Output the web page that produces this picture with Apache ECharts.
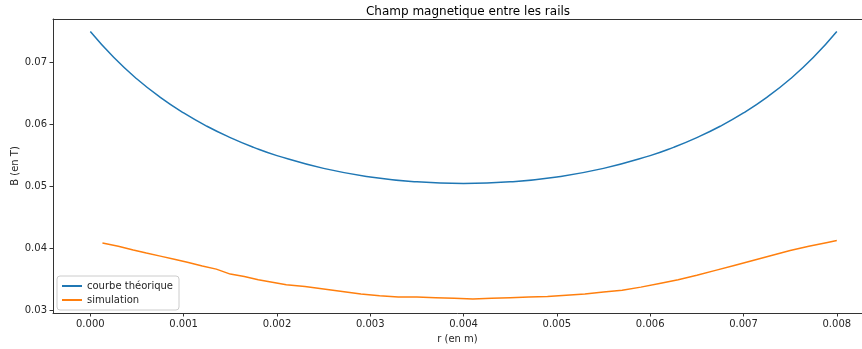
<!DOCTYPE html>
<html>
<head>
<meta charset="utf-8">
<script src="https://cdn.jsdelivr.net/npm/echarts@6/dist/echarts.min.js"></script>
<style>
  html, body { margin: 0; padding: 0; background: #fff; }
  #chart { width: 862px; height: 349px; }
</style>
</head>
<body>
<div id="chart"></div>
<script>
// courbe théorique (r en m, B en T)
const theoR = [0, 0.00025, 0.0005, 0.00075, 0.001, 0.00125, 0.0015, 0.00175, 0.002, 0.0025, 0.003, 0.0035, 0.004,
  0.0045, 0.005, 0.0055, 0.006, 0.00625, 0.0065, 0.00675, 0.007, 0.00725, 0.0075, 0.00775, 0.008]
const theoB = [0.0750, 0.07084, 0.06735, 0.06439, 0.06188, 0.05973, 0.05790, 0.05633, 0.05500, 0.05294, 0.05156, 0.05077, 0.05051,
  0.05077, 0.05156, 0.05294, 0.05500, 0.05633, 0.05790, 0.05973, 0.06188, 0.06439, 0.06735, 0.07084, 0.0750]

// simulation
const simR = [0.00013, 0.0003, 0.00046, 0.0006, 0.00075, 0.0009, 0.00104, 0.0012, 0.00135, 0.0015, 0.00165, 0.0018,
  0.00195, 0.0021, 0.0023, 0.0025, 0.0027, 0.0029, 0.0031, 0.0033, 0.0035, 0.0037, 0.0039, 0.0041, 0.0043, 0.0045,
  0.0047, 0.0049, 0.0051, 0.0053, 0.0055, 0.0057, 0.0059, 0.0061, 0.0063, 0.0065, 0.0067, 0.0069, 0.0071, 0.0073,
  0.0075, 0.0077, 0.0079, 0.0080]
const simB = [0.0409, 0.0404, 0.0398, 0.0393, 0.0388, 0.0383, 0.0378, 0.0372, 0.0367, 0.0359, 0.0355, 0.0350,
  0.0346, 0.0342, 0.0339, 0.0335, 0.0331, 0.0327, 0.0324, 0.0322, 0.0322, 0.0321, 0.0320, 0.0319, 0.0320, 0.0321,
  0.0322, 0.0323, 0.0325, 0.0327, 0.0330, 0.0333, 0.0338, 0.0344, 0.0350, 0.0357, 0.0365, 0.0373, 0.0381, 0.0389,
  0.0397, 0.0404, 0.0410, 0.0413]

const xTicks = [0, 0.001, 0.002, 0.003, 0.004, 0.005, 0.006, 0.007, 0.008]
const yTicks = [0.03, 0.04, 0.05, 0.06, 0.07]

const font = 'DejaVu Sans'
const textColor = '#262626'
const spine = '#333'

const chart = echarts.init(document.getElementById('chart'), null, { renderer: 'canvas' })

const option = {
  animation: false,
  title: {
    text: 'Champ magnetique entre les rails',
    left: 463,
    textAlign: 'center',
    top: 1,
    textStyle: { fontFamily: font, fontSize: 12, fontWeight: 'normal', color: '#000' },
  },
  grid: {
    left: 53,
    right: 0,
    top: 19,
    bottom: 36,
    show: false,
    outerBoundsMode: 'none',
  },
  legend: {
    orient: 'vertical',
    left: 57,
    top: 276,
    padding: [5, 6, 5, 5],
    itemGap: 4,
    itemWidth: 20,
    itemHeight: 2,
    icon: 'rect',
    backgroundColor: '#fff',
    borderColor: '#ccc',
    borderWidth: 1,
    borderRadius: 3,
    textStyle: { fontFamily: font, fontSize: 10, color: textColor },
    data: ['courbe théorique', 'simulation'],
  },
  xAxis: [
    {
      type: 'value',
      min: -0.0004,
      max: 0.00827,
      name: 'r (en m)',
      nameLocation: 'middle',
      nameGap: 21,
      nameMoveOverlap: false,
      nameTextStyle: { fontFamily: font, fontSize: 10, color: textColor },
      axisLine: { onZero: false, lineStyle: { color: spine, width: 1 } },
      axisTick: { show: true, length: 3.5, customValues: xTicks, lineStyle: { color: spine } },
      axisLabel: {
        customValues: xTicks,
        fontFamily: font, fontSize: 10, color: textColor, margin: 6,
        formatter: (v) => v.toFixed(3),
      },
      splitLine: { show: false },
    },
    {
      // top spine
      type: 'value',
      position: 'top',
      min: -0.0004,
      max: 0.00827,
      axisLine: { show: true, onZero: false, lineStyle: { color: spine, width: 1 } },
      axisTick: { show: false },
      axisLabel: { show: false },
      splitLine: { show: false },
    },
  ],
  yAxis: {
    type: 'value',
    min: 0.02963,
    max: 0.07702,
    name: 'B (en T)',
    nameLocation: 'middle',
    nameGap: 33,
    nameMoveOverlap: false,
    nameTextStyle: { fontFamily: font, fontSize: 10, color: textColor },
    axisLine: { show: true, onZero: false, lineStyle: { color: spine, width: 1 } },
    axisTick: { show: true, length: 3.5, customValues: yTicks, lineStyle: { color: spine } },
    axisLabel: {
      customValues: yTicks,
      fontFamily: font, fontSize: 10, color: textColor, margin: 6,
      formatter: (v) => v.toFixed(2),
    },
    splitLine: { show: false },
  },
  series: [
    {
      name: 'courbe théorique',
      type: 'line',
      smooth: true,
      showSymbol: false,
      color: '#1f77b4',
      lineStyle: { width: 1.5 },
      data: theoR.map((r, i) => [r, theoB[i]]),
    },
    {
      name: 'simulation',
      type: 'line',
      showSymbol: false,
      color: '#ff7f0e',
      lineStyle: { width: 1.5 },
      data: simR.map((r, i) => [r, simB[i]]),
    },
  ],
}

chart.setOption(option)
</script>
</body>
</html>
